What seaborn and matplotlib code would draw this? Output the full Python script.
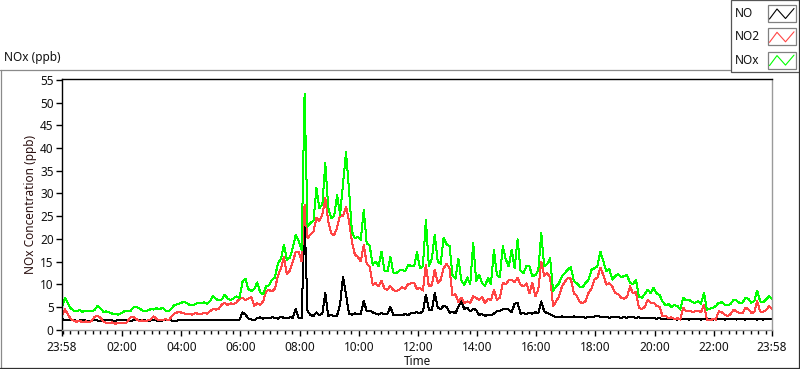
import numpy as np
import pandas as pd
import matplotlib
matplotlib.use("Agg")
import matplotlib.pyplot as plt
import matplotlib.dates as mdates
from matplotlib.lines import Line2D
from matplotlib.patches import Rectangle
import seaborn as sns

# ---- data: 6-minute samples from 23:58 to 23:58 next day (10 per hour) ----
no_vals = [
    2.3, 2.1, 2.0, 2.0, 2.1, 1.9, 2.0, 2.1, 2.0, 1.9,
    2.0, 2.1, 2.0, 1.9, 2.0, 2.1, 2.0, 2.0, 1.9, 2.1,
    2.0, 2.0, 2.1, 1.9, 2.0, 2.0, 2.1, 2.0, 2.0, 1.9,
    2.0, 2.1, 2.0, 1.9, 2.0, 2.0, 2.1, 2.0, 1.9, 2.0,
    2.1, 2.2, 2.1, 2.0, 2.0, 2.1, 2.1, 2.2, 2.1, 2.0,
    2.1, 2.1, 2.2, 2.1, 2.0, 2.1, 2.2, 2.1, 2.1, 2.2,
    2.2, 3.8, 3.3, 2.4, 2.2, 2.1, 2.5, 2.7, 2.4, 2.6,
    2.5, 2.7, 2.6, 2.4, 2.8, 2.6, 2.5, 2.7, 2.6, 4.6,
    2.6, 2.5, 24.5, 4.0, 3.2, 3.0, 3.8, 3.2, 3.6, 8.1,
    3.0, 3.2, 2.9, 3.1, 5.6, 11.7, 7.8, 3.5, 3.3, 3.6,
    3.4, 3.5, 6.4, 4.0, 4.2, 3.8, 3.5, 3.3, 3.6, 3.4,
    3.5, 5.0, 3.2, 3.1, 3.3, 3.2, 3.4, 3.2, 3.6, 3.7,
    3.8, 3.6, 4.0, 7.7, 4.4, 4.2, 8.1, 4.8, 4.5, 5.2,
    5.0, 3.7, 3.9, 3.6, 5.0, 6.2, 4.5, 4.8, 4.0, 4.6,
    4.3, 3.2, 3.4, 3.0, 3.3, 3.2, 3.5, 4.0, 4.1, 4.5,
    4.6, 4.4, 3.8, 5.7, 5.9, 3.5, 3.6, 3.4, 3.7, 3.5,
    3.8, 3.6, 6.2, 4.0, 3.6, 3.4, 3.0, 2.8, 2.7, 2.9,
    2.8, 2.7, 2.8, 2.9, 2.7, 2.8, 2.8, 2.6, 2.8, 2.7,
    2.9, 3.1, 2.8, 2.7, 2.8, 2.6, 2.7, 2.8, 2.7, 2.6,
    2.7, 2.6, 2.8, 2.7, 2.6, 2.7, 2.5, 2.6, 2.5, 2.6,
    2.5, 2.4, 2.5, 2.3, 2.4, 2.3, 2.4, 2.3, 2.2, 2.3,
    2.4, 2.3, 2.2, 2.3, 2.4, 2.3, 2.2, 2.4, 2.3, 2.3,
    2.2, 2.3, 2.4, 2.3, 2.2, 2.3, 2.4, 2.3, 2.2, 2.3,
    2.3, 2.2, 2.3, 2.4, 2.3, 2.2, 2.3, 2.2, 2.3, 2.3,
    2.3,
]

no2_vals = [
    3.0, 4.5, 3.3, 2.3, 2.0, 1.7, 1.9, 1.6, 1.8, 1.6,
    1.9, 2.8, 3.0, 2.6, 1.8, 1.5, 1.4, 1.6, 1.3, 1.4,
    1.5, 1.4, 1.6, 2.6, 2.8, 2.4, 1.9, 2.0, 1.8, 2.0,
    2.2, 2.9, 2.3, 2.0, 2.1, 2.3, 2.0, 2.8, 3.5, 3.8,
    3.8, 3.6, 3.4, 3.5, 3.3, 3.6, 3.5, 3.4, 3.7, 3.5,
    4.0, 4.5, 4.4, 4.6, 5.5, 5.9, 5.4, 5.8, 5.6, 6.0,
    6.8, 7.0, 6.5, 6.8, 7.2, 5.2, 5.8, 5.5, 6.2, 8.5,
    8.7, 8.4, 9.0, 11.9, 13.5, 16.0, 12.2, 13.0, 14.9, 17.1,
    17.2, 15.0, 27.5, 20.1, 21.0, 21.6, 24.6, 24.0, 25.3, 29.0,
    23.8, 21.2, 20.8, 22.5, 25.3, 25.0, 27.1, 24.0, 19.4, 16.5,
    16.0, 15.0, 18.7, 14.5, 13.8, 9.9, 10.2, 9.5, 10.8, 9.0,
    8.8, 9.6, 8.7, 8.4, 8.8, 9.3, 9.0, 10.0, 10.2, 10.3,
    8.9, 9.2, 8.6, 14.3, 9.5, 9.8, 13.2, 10.3, 11.0, 13.5,
    14.5, 13.5, 7.5, 7.8, 6.0, 7.0, 5.8, 6.2, 5.9, 7.3,
    7.0, 6.5, 7.2, 5.8, 6.8, 6.4, 8.8, 6.6, 7.0, 10.3,
    10.0, 10.8, 11.0, 10.5, 11.4, 9.9, 9.5, 10.2, 8.0, 10.3,
    7.3, 8.8, 15.0, 11.8, 12.5, 11.5, 5.1, 6.2, 7.3, 9.5,
    10.5, 11.4, 11.2, 8.0, 7.5, 6.1, 5.8, 6.3, 8.1, 9.0,
    11.0, 11.5, 13.6, 12.0, 9.9, 10.2, 9.5, 8.1, 7.8, 7.0,
    6.8, 7.2, 9.5, 8.0, 8.3, 4.8, 4.5, 5.0, 6.6, 5.9,
    5.9, 5.2, 5.0, 2.9, 3.0, 2.5, 2.7, 2.3, 2.5, 2.2,
    4.8, 4.0, 4.2, 3.9, 4.0, 4.1, 3.8, 5.5, 2.2, 2.0,
    2.3, 2.2, 4.0, 3.8, 3.3, 3.0, 3.4, 4.4, 4.0, 3.7,
    3.6, 4.8, 4.5, 3.7, 3.8, 6.2, 4.0, 3.9, 4.3, 5.1,
    4.6,
]

nox_vals = [
    5.0, 7.0, 5.8, 4.6, 4.2, 4.0, 4.3, 3.9, 4.1, 4.2,
    4.0, 4.3, 5.2, 4.7, 3.9, 4.0, 3.8, 3.5, 3.4, 3.3,
    3.6, 4.0, 4.2, 4.0, 4.8, 5.0, 4.7, 4.3, 4.0, 4.2,
    4.5, 4.4, 4.7, 4.5, 4.8, 4.2, 4.0, 4.6, 5.4, 5.6,
    5.8, 6.1, 5.9, 5.5, 5.3, 5.6, 5.9, 5.8, 6.0, 5.7,
    6.2, 7.3, 6.8, 6.4, 6.6, 7.7, 6.8, 6.5, 6.9, 7.3,
    7.0, 10.5, 11.2, 8.9, 8.5, 9.0, 10.4, 8.2, 7.8, 9.5,
    9.8, 11.0, 11.5, 14.7, 15.5, 18.7, 15.4, 15.8, 18.0, 20.9,
    19.5, 17.5, 52.0, 22.7, 23.5, 24.0, 31.2, 26.8, 27.5, 36.7,
    26.8, 24.6, 25.0, 29.7, 25.3, 32.3, 39.1, 31.0, 21.6, 20.1,
    20.5, 19.8, 26.3, 19.0, 18.5, 14.3, 15.0, 14.0, 17.2, 13.0,
    12.8, 16.0, 12.6, 12.4, 13.0, 13.2, 12.8, 14.3, 14.0, 13.9,
    17.2, 13.5, 14.0, 24.2, 14.0, 15.6, 20.9, 15.0, 14.5, 20.2,
    18.8, 18.4, 12.0, 11.2, 15.6, 10.8, 9.8, 11.5, 10.0, 19.1,
    10.6, 12.1, 10.2, 9.6, 11.4, 10.0, 17.6, 12.0, 11.5, 18.4,
    15.5, 13.9, 17.6, 13.5, 19.9, 13.0, 12.4, 14.0, 13.9, 11.8,
    12.0, 13.0, 21.3, 13.9, 14.5, 15.7, 8.5, 9.5, 10.2, 11.8,
    12.5, 13.2, 13.8, 10.7, 10.2, 9.5, 9.3, 10.3, 11.0, 13.2,
    13.5, 14.0, 17.2, 15.0, 12.8, 13.4, 11.0, 11.8, 12.2, 11.5,
    11.8, 12.0, 10.3, 10.0, 11.0, 7.3, 7.0, 7.8, 8.8, 8.0,
    9.2, 8.0, 7.6, 6.2, 5.3, 5.6, 5.0, 5.4, 5.2, 4.4,
    7.0, 6.4, 6.6, 6.0, 5.9, 6.2, 5.7, 8.1, 4.4, 4.6,
    4.8, 5.2, 5.9, 6.0, 5.5, 5.3, 5.6, 6.6, 6.4, 5.9,
    5.9, 7.0, 6.8, 5.9, 6.3, 8.6, 6.2, 6.0, 6.6, 7.3,
    6.8,
]

series_names = ["NO", "NO2", "NOx"]
series_colors = ["#000000", "#ff4545", "#00ff00"]
y_ticks = list(range(0, 56, 5))
hour_ticks = ["02:00", "04:00", "06:00", "08:00", "10:00", "12:00",
              "14:00", "16:00", "18:00", "20:00", "22:00"]

times = pd.date_range("2000-01-01 23:58", periods=len(no_vals), freq="6min")
df = pd.DataFrame({
    "Time": np.concatenate([times.values] * 3),
    "Concentration": no_vals + no2_vals + nox_vals,
    "Series": np.repeat(series_names, len(times)),
})

sns.set_theme(style="white")
plt.rcParams["font.family"] = ["Noto Sans", "DejaVu Sans"]

W, H = 800, 369
fig = plt.figure(figsize=(W / 100, H / 100), dpi=100)
fig.patch.set_facecolor("white")

def fx(x):
    return x / W

def fy(y):
    return 1 - y / H

ax = fig.add_axes([fx(62), fy(330), (772 - 62) / W, (330 - 78.7) / H])
sns.lineplot(data=df, x="Time", y="Concentration", hue="Series",
             hue_order=series_names, palette=dict(zip(series_names, series_colors)),
             estimator=None, legend=False, linewidth=0.72, ax=ax)
for ln in ax.get_lines():
    ln.set_antialiased(False)

ax.set_xlim(times[0], times[-1])
ax.set_ylim(-0.1, 55.3)
ax.set_yticks(y_ticks)
major = [times[0]] + [pd.Timestamp("2000-01-02 " + h) for h in hour_ticks] + [times[-1]]
ax.set_xticks([mdates.date2num(t) for t in major])
ax.set_xticklabels(["23:58"] + hour_ticks + ["23:58"])
minor = pd.date_range("2000-01-02 00:00", "2000-01-02 23:45", freq="15min")
ax.set_xticks([mdates.date2num(t) for t in minor], minor=True)

ax.tick_params(axis="x", which="major", direction="out", length=4, width=1,
               color="black", pad=4, labelsize=8.5, labelcolor="#111111", bottom=True)
ax.tick_params(axis="x", which="minor", direction="out", length=3, width=1,
               color="black", bottom=True)
ax.tick_params(axis="y", which="major", direction="out", length=4, width=1,
               color="black", pad=2, labelsize=8.5, labelcolor="#111111", left=True)

for side, col in [("left", "black"), ("top", "black"), ("right", "#9a9a9a"), ("bottom", "#9a9a9a")]:
    ax.spines[side].set_visible(True)
    ax.spines[side].set_color(col)
    ax.spines[side].set_linewidth(1.0)

ax.set_xlabel("Time", fontsize=8.5, color="#111111")
ax.xaxis.set_label_coords(0.5, -0.10)
ax.set_ylabel("NOx Concentration (ppb)", fontsize=8.5, color="#2a1010")
ax.yaxis.set_label_coords((37 - 62) / 710, 0.5)
ax.grid(False)

# window frame
frame_lines = [
    ((0, 69.5), (730, 69.5), "#8a8a8a"),
    ((0.5, 69.5), (0.5, 369), "#8a8a8a"),
    ((0, 368.3), (800, 368.3), "#303030"),
    ((799.3, 0), (799.3, 369), "#303030"),
]
for (x0, y0), (x1, y1), c in frame_lines:
    fig.add_artist(Line2D([fx(x0), fx(x1)], [fy(y0), fy(y1)], color=c, lw=0.9,
                          transform=fig.transFigure))

fig.text(fx(4), fy(58), "NOx (ppb)", fontsize=8.5, va="center", ha="left", color="#111111")

# legend panel
fig.add_artist(Rectangle((fx(730.5), fy(72)), (799.5 - 730.5) / W, 72 / H,
                         transform=fig.transFigure, facecolor="white",
                         edgecolor="#555555", lw=0.9))
for i, (name, col) in enumerate(zip(series_names, series_colors)):
    top = 5 + i * 23.3
    fig.text(fx(735), fy(top + 8.5), name, fontsize=8.5, va="center", ha="left", color="#111111")
    fig.add_artist(Rectangle((fx(767.5), fy(top + 17)), 28 / W, 17 / H,
                             transform=fig.transFigure, facecolor="white",
                             edgecolor="#808080", lw=0.9))
    zx = [769.5, 777, 785.5, 794]
    zy = [top + 14, top + 4, top + 13.5, top + 3.5]
    fig.add_artist(Line2D([fx(v) for v in zx], [fy(v) for v in zy], color=col, lw=0.8,
                          transform=fig.transFigure))

fig.savefig("out.png", dpi=100)
